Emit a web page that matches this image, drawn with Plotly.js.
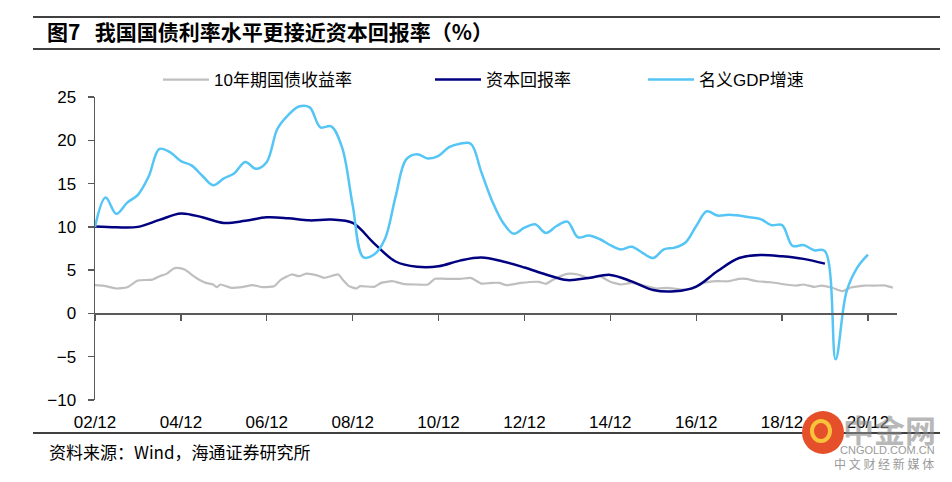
<!DOCTYPE html>
<html>
<head>
<meta charset="utf-8">
<script src="https://cdn.plot.ly/plotly-3.0.1.min.js"></script>
<style>html,body{margin:0;padding:0;background:#fff;}#chart{width:952px;height:482px;}</style>
</head>
<body>
<div id="chart"></div>
<script>
// ---- data ----
const tickDates = ['2002-12-01','2004-12-01','2006-12-01','2008-12-01','2010-12-01','2012-12-01','2014-12-01','2016-12-01','2018-12-01','2020-12-01'];
const tickLabels = ['02/12','04/12','06/12','08/12','10/12','12/12','14/12','16/12','18/12','20/12'];

const bondName = '10年期国债收益率';
const bondDates = ['2002-12','2003-03','2003-06','2003-09','2003-12','2004-04','2004-06','2004-08','2004-10','2004-11','2005-01','2005-04','2005-07','2005-09','2005-10','2005-11','2006-02','2006-05','2006-08','2006-11','2007-02','2007-04','2007-07','2007-09','2007-11','2008-02','2008-04','2008-08','2008-09','2008-11','2009-01','2009-02','2009-06','2009-08','2009-11','2010-02','2010-06','2010-09','2010-11','2011-02','2011-06','2011-09','2011-12','2012-03','2012-05','2012-07','2012-11','2013-04','2013-06','2013-08','2013-12','2014-03','2014-06','2014-09','2014-12','2015-01','2015-03','2015-06','2015-09','2016-01','2016-04','2016-08','2016-11','2017-02','2017-06','2017-09','2017-12','2018-02','2018-05','2018-09','2019-01','2019-04','2019-06','2019-09','2019-11','2020-02','2020-05','2020-07','2020-11','2021-02','2021-05','2021-07'];
const bondYield = [3.26,3.15,2.88,3.03,3.8,3.9,4.3,4.57,5.2,5.26,5.06,4.18,3.53,3.34,3.03,3.34,2.96,3.03,3.26,3.03,3.15,3.9,4.5,4.3,4.6,4.4,4.1,4.5,4.0,3.15,2.88,3.15,3.07,3.53,3.72,3.42,3.34,3.34,4.0,4.0,3.99,4.1,3.45,3.53,3.53,3.26,3.53,3.65,3.42,3.9,4.57,4.5,4.1,4.3,3.65,3.53,3.34,3.53,3.26,2.88,2.96,2.76,2.88,3.53,3.72,3.72,3.99,3.99,3.72,3.6,3.34,3.22,3.34,3.07,3.22,2.96,2.57,2.96,3.22,3.22,3.22,2.96];

const capName = '资本回报率';
const capDates = ['2002-12','2003-06','2003-12','2004-06','2004-12','2005-06','2005-12','2006-06','2006-12','2007-06','2007-12','2008-06','2008-12','2009-06','2009-12','2010-06','2010-12','2011-06','2011-12','2012-06','2012-12','2013-06','2013-12','2014-06','2014-12','2015-06','2015-12','2016-06','2016-12','2017-06','2017-12','2018-06','2018-12','2019-06','2019-12'];
const capReturn = [10.05,9.95,10.0,10.8,11.55,11.1,10.45,10.7,11.1,11.0,10.75,10.85,10.45,8.1,6.0,5.4,5.45,6.1,6.45,6.0,5.3,4.5,3.85,4.1,4.45,3.7,2.7,2.55,3.1,4.9,6.4,6.75,6.6,6.3,5.75];

const gdpName = '名义GDP增速';
const gdpDates = ['2002-12','2003-03','2003-06','2003-09','2003-12','2004-03','2004-06','2004-09','2004-12','2005-03','2005-06','2005-09','2005-12','2006-03','2006-06','2006-09','2006-12','2007-03','2007-06','2007-09','2007-12','2008-03','2008-06','2008-09','2008-12','2009-03','2009-06','2009-09','2009-12','2010-03','2010-06','2010-09','2010-12','2011-03','2011-06','2011-09','2011-12','2012-03','2012-06','2012-09','2012-12','2013-03','2013-06','2013-09','2013-12','2014-03','2014-06','2014-09','2014-12','2015-03','2015-06','2015-09','2015-12','2016-03','2016-06','2016-09','2016-12','2017-03','2017-06','2017-09','2017-12','2018-03','2018-06','2018-09','2018-12','2019-03','2019-06','2019-09','2019-12','2020-03','2020-06','2020-09','2020-12'];
const gdpGrowth = [10.0,13.4,11.5,12.8,13.7,15.8,19.0,18.6,17.6,17.1,15.9,14.8,15.6,16.2,17.5,16.7,17.5,21.3,22.9,23.9,23.8,21.5,21.6,19.2,12.5,6.5,6.8,8.6,13.5,17.8,18.4,17.9,18.2,19.2,19.6,19.6,16.3,13.0,10.5,9.2,9.9,10.3,9.3,10.1,10.6,8.8,9.0,8.6,7.9,7.4,7.7,7.0,6.4,7.4,7.6,8.2,10.1,11.8,11.3,11.4,11.3,11.1,10.9,10.2,10.2,7.8,7.9,7.3,7.2,-5.3,2.5,5.3,6.8];

const titleText = '<b>图7&nbsp;&nbsp;&nbsp;我国国债利率水平更接近资本回报率（%）</b>';
const sourceText = '资料来源：Wind，海通证券研究所';

// ---- chart ----
const FONT = '"Liberation Sans", Arial, "Noto Sans CJK SC", sans-serif';
const CJK = '"Noto Sans CJK SC", "Liberation Sans", sans-serif';
const xRange = ['2002-12-01', '2021-08-05'];
const W = 952, H = 482, ML = 95, MR = 55, MT = 97, MB = 82;
const PW = W - ML - MR, PH = H - MT - MB;
const px = X => (X - ML) / PW;          // pixel -> paper x
const py = Y => (H - MB - Y) / PH;      // pixel -> paper y

const traces = [
  {x: bondDates, y: bondYield, name: bondName, type: 'scatter', mode: 'lines',
   line: {color: '#BFBFBF', width: 2.2, shape: 'spline', smoothing: 0.5}, legend: 'legend', showlegend: true},
  {x: capDates, y: capReturn, name: capName, type: 'scatter', mode: 'lines',
   line: {color: '#000080', width: 2.5, shape: 'spline', smoothing: 1}, legend: 'legend2', showlegend: true},
  {x: gdpDates, y: gdpGrowth, name: gdpName, type: 'scatter', mode: 'lines',
   line: {color: '#55C5F5', width: 2.5, shape: 'spline', smoothing: 1}, legend: 'legend3', showlegend: true},
  {x: [], y: [], xaxis: 'x2', showlegend: false, hoverinfo: 'skip', type: 'scatter'}
];

const legBase = {orientation: 'h', xanchor: 'left', yanchor: 'middle', y: py(80),
  font: {family: FONT, size: 17, color: '#000'}, bgcolor: 'rgba(0,0,0,0)', itemwidth: 46};

const layout = {
  width: W, height: H, showlegend: true,
  margin: {l: ML, r: MR, t: MT, b: MB},
  paper_bgcolor: '#fff', plot_bgcolor: '#fff',
  title: {text: titleText, xref: 'container', yref: 'container', x: 47 / W, xanchor: 'left',
          y: 1 - 33 / H, yanchor: 'middle', font: {family: CJK, size: 21, color: '#000'}},
  xaxis: {type: 'date', range: xRange, anchor: 'free', position: 10 / 35,
          showline: true, linecolor: '#595959', linewidth: 1.5,
          ticks: 'outside', ticklen: 6, tickcolor: '#595959', tickwidth: 1.3,
          tickvals: tickDates, showticklabels: false, showgrid: false, zeroline: false},
  xaxis2: {type: 'date', range: xRange, overlaying: 'x', anchor: 'y', side: 'bottom',
           tickvals: tickDates, ticktext: tickLabels, showline: false, ticks: '',
           showgrid: false, zeroline: false, ticklabelstandoff: 10,
           tickfont: {family: FONT, size: 17, color: '#000'}},
  yaxis: {range: [-10, 25], tick0: 0, dtick: 5, showline: true, linecolor: '#595959', linewidth: 1.5,
          ticks: 'outside', ticklen: 6, tickcolor: '#595959', tickwidth: 1.3,
          showgrid: false, zeroline: false, ticklabelstandoff: 8,
          tickfont: {family: FONT, size: 17, color: '#000'}},
  legend: Object.assign({}, legBase, {x: px(158)}),
  legend2: Object.assign({}, legBase, {x: px(430)}),
  legend3: Object.assign({}, legBase, {x: px(643)}),
  shapes: [
    {type: 'line', xref: 'paper', yref: 'paper', x0: px(33), x1: px(940), y0: py(17), y1: py(17), line: {color: '#000', width: 1.5}},
    {type: 'line', xref: 'paper', yref: 'paper', x0: px(33), x1: px(940), y0: py(49), y1: py(49), line: {color: '#000', width: 1.5}},
    {type: 'line', xref: 'paper', yref: 'paper', x0: px(33), x1: px(940), y0: py(433), y1: py(433), line: {color: '#000', width: 1.5}},
    {type: 'circle', xref: 'paper', yref: 'paper', layer: 'above', x0: px(802), x1: px(844), y0: py(454), y1: py(411),
     fillcolor: '#E5502A', line: {width: 0}},
    {type: 'circle', xref: 'paper', yref: 'paper', layer: 'above', x0: px(812), x1: px(830), y0: py(441), y1: py(421),
     fillcolor: 'rgba(0,0,0,0)', line: {color: '#F8C33A', width: 4}}
  ],
  annotations: [
    {text: sourceText, xref: 'paper', yref: 'paper', x: px(47), y: py(451), xanchor: 'left', yanchor: 'middle',
     showarrow: false, font: {family: CJK, size: 17, color: '#000'}},
    {text: '<b>中金网</b>', xref: 'paper', yref: 'paper', x: px(938), y: py(428), xanchor: 'right', yanchor: 'middle',
     showarrow: false, opacity: 0.6, font: {family: CJK, size: 31, color: '#8a8a8a'}},
    {text: 'CNGOLD.COM.CN', xref: 'paper', yref: 'paper', x: px(937), y: py(450), xanchor: 'right', yanchor: 'middle',
     showarrow: false, font: {family: FONT, size: 11, color: '#9a9a9a'}},
    {text: '中 文 财 经 新 媒 体', xref: 'paper', yref: 'paper', x: px(936), y: py(464), xanchor: 'right', yanchor: 'middle',
     showarrow: false, font: {family: CJK, size: 12, color: '#9a9a9a'}}
  ]
};

Plotly.newPlot('chart', traces, layout, {staticPlot: true, displayModeBar: false});
</script>
</body>
</html>
